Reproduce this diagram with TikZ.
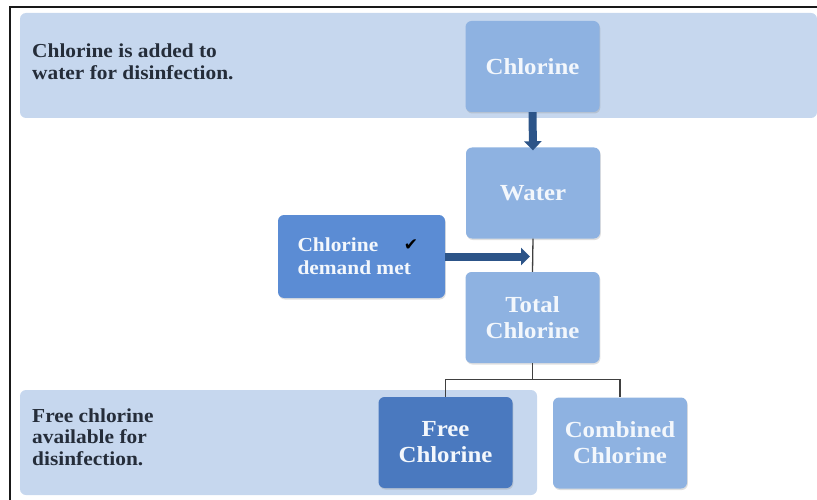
\documentclass[tikz,border=0pt]{standalone}
\usepackage{fontspec}
\setmainfont{Liberation Serif}[FakeStretch=1.08]
\newfontfamily\checkfont{DejaVu Sans}
\usetikzlibrary{arrows.meta,shadows,positioning}

\definecolor{BandBlue}{HTML}{C6D7EE}
\definecolor{BoxBlue}{HTML}{8EB2E1}
\definecolor{DemandBlue}{HTML}{5B8CD4}
\definecolor{FreeBlue}{HTML}{4A79BF}
\definecolor{ArrowBlue}{HTML}{2C5488}
\definecolor{NoteText}{HTML}{252D3A}
\definecolor{BoxText}{HTML}{F3F7FC}

\begin{document}
\begin{tikzpicture}[x=1pt,y=-1pt]
  \tikzstyle{BandStyle}=[fill=BandBlue,rounded corners=6pt]
  \tikzstyle{NoteStyle}=[anchor=west,align=left,text=NoteText,inner sep=0pt,
    font=\bfseries\fontsize{19.8}{21.5}\selectfont]
  \tikzstyle{BoxStyle}=[fill=BoxBlue,rounded corners=6pt,minimum width=134pt,
    minimum height=91pt,align=center,text=BoxText,inner sep=0pt,
    font=\bfseries\fontsize{23}{26}\selectfont,
    drop shadow={opacity=0.25,shadow xshift=0.8pt,shadow yshift=-1.5pt}]
  \tikzstyle{FlowStyle}=[draw=ArrowBlue,line width=8pt,
    -{Triangle[width=17pt,length=9pt]}]
  \tikzstyle{TreeStyle}=[draw=black!75,line width=1.3pt]

  \useasboundingbox (0,0) rectangle (817,500);
  \draw[line width=2pt,black!90] (817,7) -- (10,7) -- (10,500);

  \path[BandStyle] (20,13) rectangle (817,118);
  \path[BandStyle] (20,390) rectangle (537,495);

  \node[NoteStyle] (topnote) at (32,62) {Chlorine is added to\\water for disinfection.};
  \node[NoteStyle] (bottomnote) at (32,437) {Free chlorine\\available for\\disinfection.};

  \node[BoxStyle] (chlorine) at (532.5,66.5) {Chlorine};
  \node[BoxStyle] (water) at (533,193) {Water};
  \node[BoxStyle] (total) at (532.5,317.5) {Total\\Chlorine};
  \node[BoxStyle,fill=DemandBlue,minimum width=167pt,minimum height=83pt,
    align=left,font=\bfseries\fontsize{19.8}{23}\selectfont] (demand) at (361.5,256.5)
    {\makebox[128pt][l]{Chlorine}\\demand met};
  \node[text=black,font=\checkfont\fontsize{17}{17}\selectfont,inner sep=0pt]
    (tick) at (411,245) {✔};
  \node[BoxStyle,fill=FreeBlue] (free) at (445.5,442.5) {Free\\Chlorine};
  \node[BoxStyle] (combined) at (620,443) {Combined\\Chlorine};

  \coordinate (joint) at (water.south |- demand.east);

  \draw[TreeStyle] (water.south) -- (total.north);
  \draw[FlowStyle] (chlorine.south) -- ([yshift=-3pt]water.north);
  \draw[FlowStyle] (demand.east) -- ([xshift=-3pt]joint);
  \draw[TreeStyle] (total.south) -- ++(0,16) -| (free.north);
  \draw[TreeStyle] (total.south) -- ++(0,16) -| (combined.north);
\end{tikzpicture}
\end{document}
